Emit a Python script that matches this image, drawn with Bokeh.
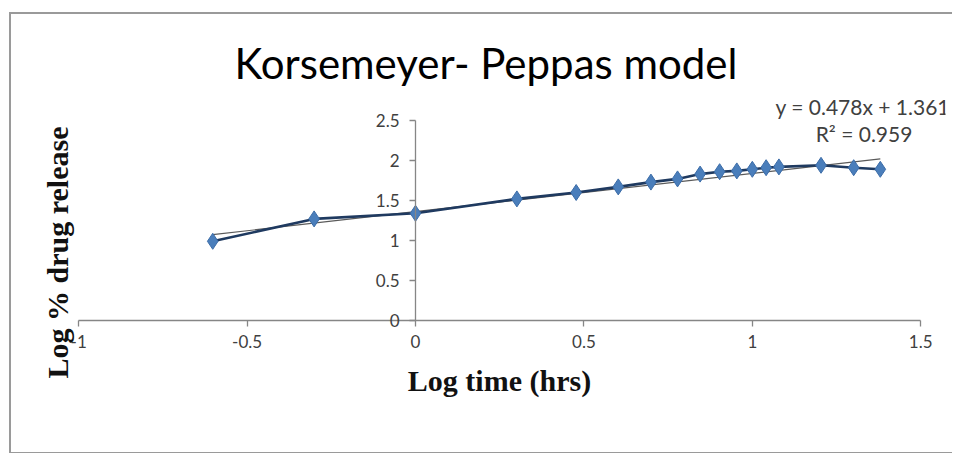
import math
from bokeh.plotting import figure
from bokeh.models import Range1d, LinearAxis, FixedTicker, Label
from bokeh.embed import file_html
from bokeh.resources import INLINE

# ---- data ----
log_time = [-0.602, -0.301, 0.0, 0.301, 0.477, 0.602, 0.699, 0.778, 0.845,
            0.903, 0.954, 1.0, 1.041, 1.079, 1.204, 1.301, 1.380]
log_release = [0.99, 1.27, 1.34, 1.52, 1.60, 1.67, 1.73, 1.77, 1.83,
               1.86, 1.87, 1.89, 1.91, 1.92, 1.94, 1.91, 1.89]

trend_slope = 0.478
trend_intercept = 1.361
trend_r2 = 0.959

x_ticks = [-1, -0.5, 0, 0.5, 1, 1.5]
x_tick_labels = ["-1", "-0.5", "0", "0.5", "1", "1.5"]
y_ticks = [0, 0.5, 1, 1.5, 2, 2.5]
y_tick_labels = ["0", "0.5", "1", "1.5", "2", "2.5"]

title_text = "Korsemeyer- Peppas model"
x_title = "Log time (hrs)"
y_title = "Log % drug release"

# ---- figure ----
AX = "#868686"
TXT = "#404040"
TICK_FONT = "Lato"

# the frame covers the whole chart area; axes cross at the origin
p = figure(width=943, height=442, output_backend="svg", toolbar_location=None,
           x_range=Range1d(-1.1134, 1.5736), y_range=Range1d(-1.25, 2.85),
           x_axis_type=None, y_axis_type=None,
           min_border_left=29, min_border_right=9,
           min_border_top=78, min_border_bottom=36)
p.outline_line_color = None
p.background_fill_color = "white"
p.border_fill_color = "white"
p.styles = {"margin-top": "12px", "margin-left": "9px",
            "border-left": "2px solid #9a9a9a",
            "border-top": "2px solid #9a9a9a",
            "border-bottom": "2px solid #9a9a9a"}

p.title.text = title_text
p.title.text_font = "Lato"
p.title.text_font_style = "normal"
p.title.text_font_size = "42px"
p.title.text_color = "#000000"
p.title.align = "left"
p.title.offset = 194
p.title.standoff = 10

def style_axis(ax):
    ax.axis_line_color = AX
    ax.axis_line_width = 1.3
    ax.major_tick_line_color = AX
    ax.major_tick_line_width = 1.3
    ax.major_tick_in = 0
    ax.major_tick_out = 6
    ax.minor_tick_line_color = None
    ax.major_label_text_font = TICK_FONT
    ax.major_label_text_font_size = "17px"
    ax.major_label_text_color = TXT

xaxis = LinearAxis(fixed_location=0, bounds=(x_ticks[0], x_ticks[-1]),
                   ticker=FixedTicker(ticks=x_ticks),
                   major_label_overrides=dict(zip(x_ticks, x_tick_labels)),
                   axis_label=x_title)
style_axis(xaxis)
xaxis.major_label_standoff = 8
xaxis.axis_label_standoff = 13
xaxis.axis_label_text_font = "Liberation Serif"
xaxis.axis_label_text_font_style = "bold"
xaxis.axis_label_text_font_size = "30px"
xaxis.axis_label_text_color = "#111111"
p.add_layout(xaxis, "below")

yaxis = LinearAxis(fixed_location=0, bounds=(y_ticks[0], y_ticks[-1]),
                   ticker=FixedTicker(ticks=y_ticks),
                   major_label_overrides=dict(zip(y_ticks, y_tick_labels)))
style_axis(yaxis)
yaxis.major_label_standoff = 10
p.add_layout(yaxis, "left")

# trendline (linear fit as reported on the chart)
tx = [min(log_time), max(log_time)]
ty = [trend_slope * v + trend_intercept for v in tx]
p.line(tx, ty, line_color="#5a5a5a", line_width=1.2)

# series line and markers
p.line(log_time, log_release, line_color="#1F3A60", line_width=2.6)
p.scatter(log_time, log_release, marker="diamond", size=16,
          fill_color="#4A7EBB", line_color="#3D6DA8", line_width=1)

# equation labels
p.add_layout(Label(x=1.069, y=2.67, text=f"y = {trend_slope}x + {trend_intercept}",
                   text_font="Lato", text_font_size="21px", text_color=TXT,
                   text_baseline="middle"))
p.add_layout(Label(x=1.188, y=2.34, text=f"R\u00b2 = {trend_r2}",
                   text_font="Lato", text_font_size="21px", text_color=TXT,
                   text_baseline="middle"))

# y axis title at the left of the chart area
p.add_layout(Label(x=-1.062, y=0.85, text=y_title, angle=math.pi / 2,
                   text_align="center", text_baseline="middle",
                   text_font="Liberation Serif", text_font_style="bold",
                   text_font_size="30px", text_color="#111111"))

open("out.html", "w").write(file_html(p, INLINE))
